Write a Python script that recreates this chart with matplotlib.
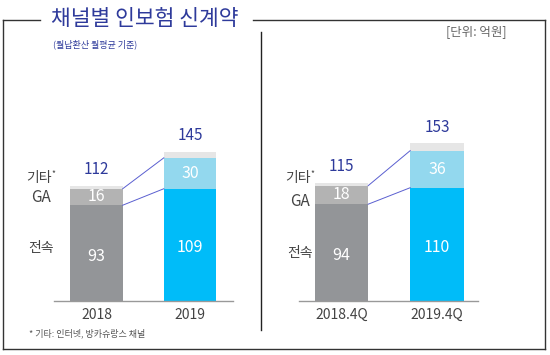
import matplotlib
matplotlib.use("Agg")
import matplotlib.pyplot as plt
from matplotlib.lines import Line2D

plt.rcParams['font.family'] = ['Noto Sans CJK KR', 'DejaVu Sans']

# 데이터
left_cats = ["2018", "2019"]
left_jeonsok = [93, 109]
left_ga = [16, 30]
left_total = [112, 145]

right_cats = ["2018.4Q", "2019.4Q"]
right_jeonsok = [94, 110]
right_ga = [18, 36]
right_total = [115, 153]

seg_names = ["기타", "GA", "전속"]

c_prev = ["#939598", "#b3b3b3", "#e6e6e6"]   # 전속, GA, 기타
c_curr = ["#00bcf9", "#93d8ee", "#e6e6e6"]
navy = "#2e3a9b"

W, H = 550, 355
fig = plt.figure(figsize=(W / 100, H / 100), dpi=100)


def fx(px):
    return px / W


def fy(py):
    return 1 - py / H


def panel(x0, x1, cats, jeonsok, ga, total, xl, xr):
    base = 301
    ymax = 170
    top = base - ymax * 1.03
    ax = fig.add_axes([fx(x0), fy(base), fx(x1) - fx(x0), (base - top) / H])
    x = [0, 1]
    width = 0.56
    others = [t - j - g for t, j, g in zip(total, jeonsok, ga)]
    for i in x:
        cols = c_prev if i == 0 else c_curr
        ax.bar(i, jeonsok[i], width, color=cols[0])
        ax.bar(i, ga[i], width, bottom=jeonsok[i], color=cols[1])
        ax.bar(i, others[i], width, bottom=jeonsok[i] + ga[i], color=cols[2])
        ax.text(i, jeonsok[i] / 2 - 3, str(jeonsok[i]), ha='center', va='center',
                color='white', fontsize=11.5)
        ax.text(i, jeonsok[i] + ga[i] / 2, str(ga[i]), ha='center', va='center',
                color='white', fontsize=11.5)
        ax.text(i, total[i] + 7, str(total[i]), ha='center', va='bottom',
                color=navy, fontsize=11)
    # 연결선
    ax.plot([width / 2, 1 - width / 2], [jeonsok[0] + ga[0], jeonsok[1] + ga[1]],
            color="#5a5fd0", lw=0.7)
    ax.plot([width / 2, 1 - width / 2], [jeonsok[0], jeonsok[1]],
            color="#5a5fd0", lw=0.7)
    ax.set_xlim(xl, xr)
    ax.set_ylim(0, ymax)
    ax.set_xticks(x)
    ax.set_xticklabels(cats, fontsize=10, color="#444444")
    ax.tick_params(length=0, pad=5)
    ax.set_yticks([])
    for s in ["top", "left", "right"]:
        ax.spines[s].set_visible(False)
    ax.spines["bottom"].set_color("#999999")
    ax.spines["bottom"].set_linewidth(1)
    return ax


panel(54, 233, left_cats, left_jeonsok, left_ga, left_total, -0.455, 1.46)
panel(299, 478, right_cats, right_jeonsok, right_ga, right_total, -0.445, 1.43)

# 계열 이름
lab_col = "#444444"
for cx, ys in [(41, (178, 198, 248)), (300, (178, 201, 253))]:
    fig.text(fx(cx - 2), fy(ys[0]), seg_names[0], ha='center', va='center',
             fontsize=10, color=lab_col)
    fig.text(fx(cx + 10), fy(ys[0] - 4), "*", ha='left', va='center',
             fontsize=6, color=lab_col)
    fig.text(fx(cx), fy(ys[1]), seg_names[1], ha='center', va='center',
             fontsize=11, color=lab_col)
    fig.text(fx(cx), fy(ys[2]), seg_names[2], ha='center', va='center',
             fontsize=10, color=lab_col)

# 테두리
frame = "#333333"
lw = 1
fig.add_artist(Line2D([fx(3), fx(3)], [fy(20), fy(349)], color=frame, lw=lw))
fig.add_artist(Line2D([fx(3), fx(545)], [fy(349), fy(349)], color=frame, lw=lw))
fig.add_artist(Line2D([fx(545), fx(545)], [fy(20), fy(349)], color=frame, lw=lw))
fig.add_artist(Line2D([fx(3), fx(40)], [fy(20), fy(20)], color=frame, lw=lw))
fig.add_artist(Line2D([fx(253), fx(545)], [fy(20), fy(20)], color=frame, lw=lw))
fig.add_artist(Line2D([fx(261), fx(261)], [fy(32), fy(330)], color="#222222", lw=1))

# 제목
fig.text(fx(51), fy(19), "채널별 인보험 신계약", ha='left', va='center',
         fontsize=15.5, color=navy)
fig.text(fx(53), fy(44), "(월납환산 월평균 기준)", ha='left', va='center',
         fontsize=6.5, color=navy)
fig.text(fx(507), fy(32), "[단위: 억원]", ha='right', va='center',
         fontsize=9, color="#666666")
fig.text(fx(29), fy(333), "* 기타: 인터넷, 방카슈랑스 채널", ha='left', va='center',
         fontsize=6.5, color="#555555")

fig.savefig("out.png", dpi=100)
